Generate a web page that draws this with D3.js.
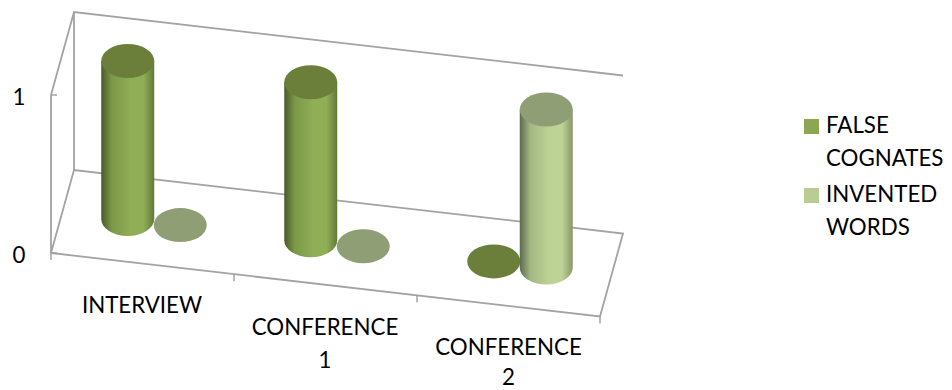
<!DOCTYPE html>
<html><head><meta charset="utf-8">
<script src="https://cdn.jsdelivr.net/npm/d3@7"></script>
<style>html,body{margin:0;background:#fff}svg{display:block}text{font-family:Lato,"Open Sans",sans-serif;fill:#000}</style>
</head><body><svg id="c" width="952" height="390"></svg>
<script>
const categories = [["INTERVIEW"], ["CONFERENCE", "1"], ["CONFERENCE", "2"]];
const seriesNames = [["FALSE", "COGNATES"], ["INVENTED", "WORDS"]];
const falseCognates = [1, 1, 0];
const inventedWords = [0, 0, 1];
const valueTicks = [0, 1];
const seriesColors = [
  {id:"g0", stops:["#4b5a2a","#7c9848","#8fae55","#8fae55","#64783a"], top:"#6b7f3b", swatch:"#8ca651"},
  {id:"g1", stops:["#5d6a50","#a3b782","#bdd295","#bdd295","#87976c"], top:"#8f9e74", swatch:"#b9cd93"}
];

const svg = d3.select("#c");
// oblique projection axes of the 3-D box
const uX = d3.scaleLinear().domain([0,3]).range([0,549]);
const uY = d3.scaleLinear().domain([0,3]).range([0,63.5]);
const vX = d3.scaleLinear().domain([0,1]).range([0,23]);
const vY = d3.scaleLinear().domain([0,1]).range([0,-83]);
const zY = d3.scaleLinear().domain([0,1]).range([0,-158]);
const P = (u,v,z)=>[51+uX(u)+vX(v), 253+uY(u)+vY(v)+zY(z)];

const defs = svg.append("defs");
seriesColors.forEach(s=>{
  const g = defs.append("linearGradient").attr("id",s.id).attr("x1",0).attr("x2",1).attr("y1",0).attr("y2",0);
  [0,.2,.55,.8,1].forEach((o,i)=>g.append("stop").attr("offset",o).attr("stop-color",s.stops[i]));
});

// box frame
const frame = [
  [[0,1,0],[0,1,1],[3,1,1]],
  [[0,0,1],[0,1,1]],
  [[0,0,0],[0,0,1]],
  [[0,0,0],[3,0,0],[3,1,0],[0,1,0],[0,0,0]]
];
const line = d3.line();
svg.append("g").selectAll("path").data(frame).join("path")
  .attr("d",d=>line(d.map(p=>P(...p))))
  .attr("fill","none").attr("stroke","#a3a3a3").attr("stroke-width",1.8);

// ticks
const tg = svg.append("g").attr("stroke","#a3a3a3").attr("stroke-width",1.5);
d3.range(0,4).forEach(u=>{
  const [x,y]=P(u,0,0);
  tg.append("line").attr("x1",x).attr("x2",x).attr("y1",y).attr("y2",y+7);
});
valueTicks.forEach(t=>{
  const [x,y]=P(0,0,t);
  tg.append("line").attr("x1",x).attr("x2",x+6).attr("y1",y).attr("y2",y);
  svg.append("text").attr("x",19).attr("y",y+9.5).attr("text-anchor","middle").attr("font-size",22.3).text(t);
});

// cylinders
const rx=26.5, ry=17, offset=0.1435;
const series=[falseCognates,inventedWords];
categories.forEach((c,ci)=>{
  series.forEach((vals,si)=>{
    const u=ci+0.5+(si===0?-offset:offset);
    const [bx,by]=P(u,0.5,0);
    const [tx,ty]=P(u,0.5,vals[ci]);
    const col=seriesColors[si];
    if(vals[ci]>0){
      svg.append("path")
        .attr("d",`M${bx-rx},${ty}L${bx-rx},${by}A${rx},${ry} 0 0 0 ${bx+rx},${by}L${bx+rx},${ty}Z`)
        .attr("fill",`url(#${col.id})`);
    }
    svg.append("ellipse").attr("cx",tx).attr("cy",ty).attr("rx",rx).attr("ry",ry).attr("fill",col.top);
  });
});

// category labels
const labelPos=[[142,313,0],[325,335,32.5],[508.5,355,30]];
categories.forEach((c,i)=>{
  const t=svg.append("text").attr("font-size",22.3).attr("text-anchor","middle");
  c.forEach((s,j)=>t.append("tspan").attr("x",labelPos[i][0]).attr("y",labelPos[i][1]+j*labelPos[i][2]).text(s));
});

// legend
const legendY=[119,188];
seriesNames.forEach((n,i)=>{
  svg.append("rect").attr("x",804).attr("y",legendY[i]).attr("width",15).attr("height",15).attr("fill",seriesColors[i].swatch);
  n.forEach((s,j)=>svg.append("text").attr("x",826).attr("y",legendY[i]+14+j*33).attr("font-size",22.3).text(s));
});
</script></body></html>
